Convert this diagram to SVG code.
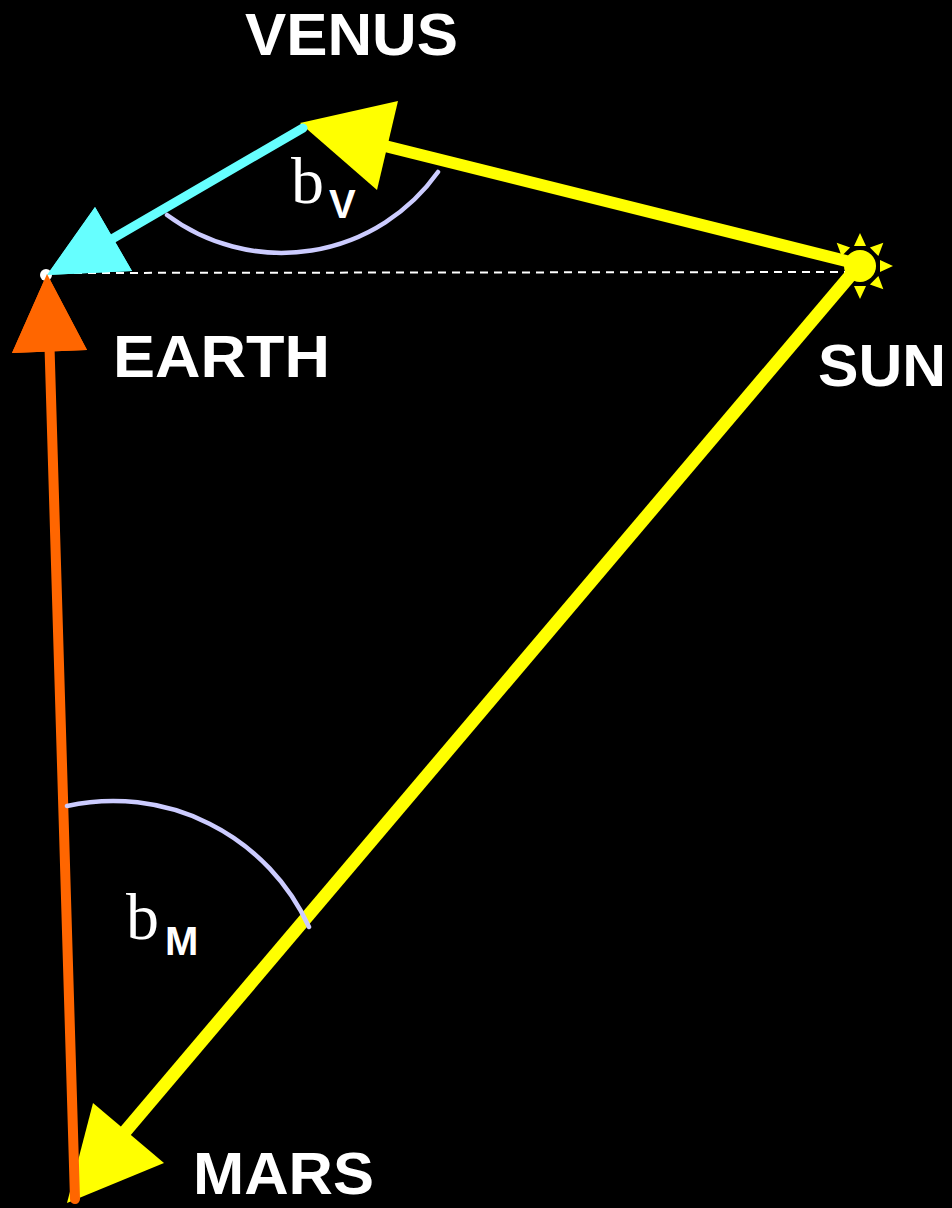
<svg xmlns="http://www.w3.org/2000/svg" width="952" height="1208" viewBox="0 0 952 1208">
<style>
.lbl{font-family:"Liberation Sans",Arial,sans-serif;font-weight:bold;font-size:60px;fill:#fff}
.ang{font-family:"Liberation Serif","Times New Roman",serif;font-size:66px;fill:#fff}
.sub{font-family:"Liberation Sans",Arial,sans-serif;font-weight:bold;font-size:40px;fill:#fff}
.arc{fill:none;stroke:#ccccff;stroke-width:4.5;stroke-linecap:round}
</style>
<defs>
<polygon id="ray" points="-6,-20 0,-33 6,-20" fill="#ffff00"/>
</defs>
<rect width="952" height="1208" fill="#000"/>
<g id="connectors">
<line x1="46" y1="273" x2="850" y2="272" stroke="#fff" stroke-width="2" stroke-dasharray="8 6"/>
<g id="sun-venus">
<line x1="850" y1="262" x2="385" y2="146" stroke="#ffff00" stroke-width="12"/>
<polygon points="300,123 398,101 377,190" fill="#ffff00"/>
</g>
<g id="venus-earth">
<line x1="303" y1="128" x2="112" y2="239" stroke="#66ffff" stroke-width="9" stroke-linecap="round"/>
<polygon points="47,275 95,207 132,271" fill="#66ffff"/>
</g>
<g id="sun-mars">
<line x1="855" y1="270" x2="118" y2="1140" stroke="#ffff00" stroke-width="13"/>
<polygon points="67,1203 93,1103 164,1163" fill="#ffff00"/>
</g>
<g id="mars-earth">
<line x1="75" y1="1199" x2="49" y2="330" stroke="#ff6600" stroke-width="10" stroke-linecap="round"/>
<polygon points="47,274 12,353 87,350" fill="#ff6600"/>
</g>
</g>
<g id="earth">
<circle cx="46" cy="275" r="6" fill="#fff"/>
<polygon points="47,275 95,207 132,271" fill="#66ffff"/>
<polygon points="47,274 12,353 87,350" fill="#ff6600"/>
<text class="lbl" x="113" y="377" textLength="217" lengthAdjust="spacingAndGlyphs">EARTH</text>
</g>
<g id="venus">
<text class="lbl" x="245" y="55" textLength="213" lengthAdjust="spacingAndGlyphs">VENUS</text>
</g>
<g id="sun">
<circle cx="860" cy="266" r="16" fill="#ffff00"/>
<g transform="translate(860,266)">
<use href="#ray"/>
<use href="#ray" transform="rotate(45)"/>
<use href="#ray" transform="rotate(90)"/>
<use href="#ray" transform="rotate(135)"/>
<use href="#ray" transform="rotate(180)"/>
<use href="#ray" transform="rotate(225)"/>
<use href="#ray" transform="rotate(315)"/>
</g>
<text class="lbl" x="818" y="386" textLength="128" lengthAdjust="spacingAndGlyphs">SUN</text>
</g>
<g id="mars">
<text class="lbl" x="193" y="1194" textLength="181" lengthAdjust="spacingAndGlyphs">MARS</text>
</g>
<g id="angle-bv">
<path class="arc" d="M167,215 A192,192 0 0 0 438,172"/>
<text class="ang" x="291" y="203">b</text>
<text class="sub" x="329" y="218">V</text>
</g>
<g id="angle-bm">
<path class="arc" d="M67,806 A215,215 0 0 1 309,927"/>
<text class="ang" x="126" y="939">b</text>
<text class="sub" x="165" y="955">M</text>
</g>
</svg>
